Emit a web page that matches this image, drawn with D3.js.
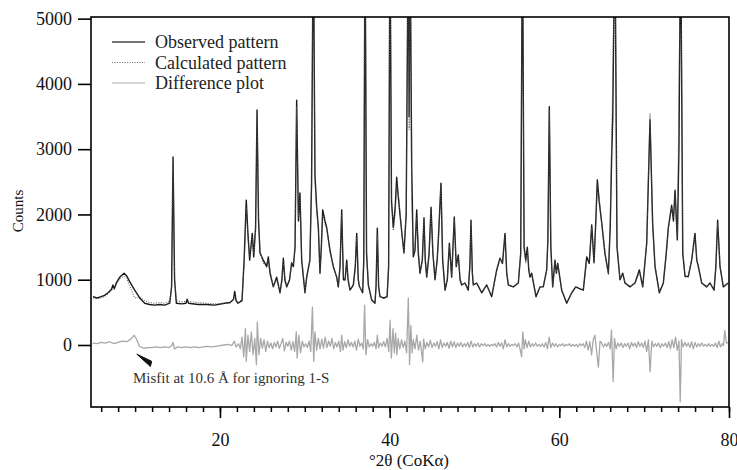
<!DOCTYPE html>
<html>
<head>
<meta charset="utf-8">
<script src="https://cdn.jsdelivr.net/npm/d3@7"></script>
<style>
  html, body { margin: 0; padding: 0; background: #fff; }
  svg { display: block; }
  svg text { font-family: "Liberation Serif", "Times New Roman", serif; }
</style>
</head>
<body>
<svg id="chart" width="737" height="470"></svg>
<script>
// ---- Data ----
const twoTheta = [5.04,5.5,6.0,6.4,6.8,7.2,7.39,7.55,7.78,8.2,8.69,9.0,9.36,9.95,10.54,11.13,11.7,12.3,12.9,13.49,14.08,14.3,14.47,14.65,14.86,15.5,16.0,16.12,16.3,17.4,18.4,19.37,20.55,21.2,21.6,21.74,21.9,22.13,22.6,22.85,23.1,23.3,23.5,23.81,23.98,24.2,24.37,24.55,24.72,25.1,25.51,25.7,25.9,26.29,26.68,27.08,27.3,27.47,27.65,27.87,28.2,28.45,28.65,28.85,29.04,29.25,29.43,29.63,30.02,30.22,30.6,30.8,31.0,31.2,31.4,31.6,31.79,31.95,32.11,32.38,32.58,32.97,33.36,33.76,33.95,34.15,34.35,34.55,34.75,34.94,35.1,35.33,35.72,35.95,36.12,36.3,36.43,36.82,36.95,37.1,37.28,37.49,37.88,38.27,38.4,38.55,38.7,38.86,39.3,39.7,39.88,40.04,40.22,40.43,40.65,40.83,41.0,41.22,41.45,41.69,41.95,42.2,42.3,42.4,42.6,42.79,42.99,43.19,43.38,43.58,43.85,44.05,44.2,44.37,44.65,44.88,45.1,45.35,45.6,45.74,46.05,46.25,46.53,46.8,47.04,47.31,47.62,47.85,48.09,48.3,48.49,48.88,49.27,49.45,49.59,49.75,49.86,50.26,50.85,51.44,52.03,52.62,53.01,53.3,53.6,53.8,53.99,54.58,55.17,55.45,55.65,55.85,56.05,56.23,56.4,56.54,56.74,57.25,57.72,58.11,58.51,58.65,58.82,59.0,59.22,59.49,59.65,59.81,60.28,60.87,61.46,61.93,62.44,62.83,63.23,63.53,63.82,64.09,64.3,64.48,64.7,65.0,65.38,65.78,66.0,66.17,66.3,66.55,66.8,67.15,67.47,67.74,68.33,68.92,69.43,69.83,70.3,70.69,71.0,71.28,71.79,72.26,72.6,72.85,73.24,73.45,73.64,73.91,74.1,74.3,74.55,74.82,75.2,75.6,75.99,76.2,76.39,76.78,77.37,77.76,78.24,78.45,78.66,78.94,79.33,79.92];

const observed = [740,720,740,760,800,850,920,860,950,1040,1100,1060,970,840,720,640,620,610,620,610,640,900,2880,1000,640,630,640,700,640,620,620,610,640,650,700,820,680,640,680,1300,2220,1700,1300,1710,1350,1800,3600,1900,1410,1300,1200,1350,1100,890,1040,800,1000,1330,1000,890,1000,1260,1200,1500,3750,1900,2330,1300,800,1040,1300,2500,6500,2600,2110,1800,1100,1500,2070,1900,1800,1450,1200,1040,890,1200,2070,1000,1000,1300,1000,840,920,1200,1710,1000,900,800,1300,6500,1400,920,690,640,900,1790,900,740,720,740,1200,6500,2200,1800,2100,2570,2300,2000,1700,1410,2000,6500,3500,6500,2730,1350,1450,2070,1400,1100,1300,1950,1300,1040,1400,2110,1400,1000,1300,1610,2480,1300,840,1000,1560,1040,1960,1200,1380,1000,920,950,840,1200,1910,1100,920,950,800,920,740,1150,1330,1250,1710,1100,920,890,950,1400,6500,1500,1300,1500,1150,1040,1100,740,890,890,1150,1600,3650,1500,890,1300,1100,1250,840,640,800,890,860,840,1350,1250,1840,1260,1900,2530,2200,1870,1400,1100,1800,2880,3500,6500,1500,1000,1100,950,890,950,1150,890,1560,3450,1870,1200,800,950,1400,1800,2140,1900,2370,1610,3000,6500,1400,1050,1050,1300,1710,1300,1200,950,890,950,840,1200,1910,1200,890,950];

const calculated = [720,710,720,740,780,830,860,850,920,1010,1060,1020,900,720,740,680,650,640,650,640,670,880,2840,1050,680,660,670,690,670,650,640,630,640,640,690,760,700,650,700,1250,2100,1650,1350,1650,1400,1750,3550,1950,1450,1250,1250,1300,1150,900,1000,820,980,1250,1050,900,980,1250,1220,1480,3650,1950,2250,1350,820,1020,1280,2450,6500,2500,2050,1750,1150,1480,2000,1850,1780,1420,1220,1020,910,1180,2000,1050,980,1250,1020,850,900,1180,1650,1050,890,820,1280,6500,1450,900,700,650,880,1700,920,750,710,730,1230,6500,2250,1750,2000,2450,2350,2050,1680,1420,2050,6500,3300,6500,2200,1400,1450,1950,1500,1120,1280,1900,1320,1050,1380,2050,1430,1020,1280,1600,2420,1330,860,1010,1520,1060,1920,1220,1350,1020,930,950,860,1180,1860,1120,930,940,810,910,760,1130,1320,1260,1650,1120,910,890,960,1450,6500,1450,1250,1450,1180,1060,1090,760,880,900,1140,1620,3600,1520,880,1280,1120,1240,850,660,790,880,870,850,1300,1280,1800,1300,1850,2450,2250,1850,1420,1080,1900,3200,4100,6500,1550,1020,1080,960,900,940,1120,900,1550,3550,1800,1220,810,940,1380,1780,2100,1950,2300,1650,3900,6500,1450,1060,1040,1320,1650,1320,1180,960,890,940,850,1180,1860,1220,900,940];

const diffTheta = [5.0,5.5,6.0,6.5,7.0,7.5,8.0,8.5,9.0,9.5,9.9,10.2,10.5,11.0,11.5,12.0,12.5,13.0,13.5,14.0,14.3,14.47,14.65,15.0,15.5,16.0,16.5,17.0,17.5,18.0,18.5,19.0,19.5,20.0,20.5,21.0,21.4,21.7,21.9,22.2,22.4,22.6,22.8,23.0,23.1,23.3,23.5,23.7,23.9,24.1,24.3,24.4,24.6,24.8,25.0,25.2,25.4,25.6,25.8,26.0,26.2,26.4,26.6,26.8,27.0,27.2,27.4,27.6,27.8,28.0,28.2,28.4,28.6,28.8,29.0,29.1,29.3,29.5,29.7,29.9,30.1,30.3,30.5,30.7,30.9,31.05,31.2,31.4,31.6,31.8,32.0,32.2,32.4,32.6,32.8,33.0,33.2,33.4,33.6,33.8,34.0,34.2,34.35,34.5,34.7,34.9,35.1,35.3,35.5,35.7,35.9,36.1,36.3,36.5,36.7,36.9,37.05,37.2,37.4,37.6,37.8,38.0,38.2,38.4,38.55,38.7,38.9,39.1,39.3,39.5,39.7,39.9,40.05,40.2,40.4,40.55,40.7,40.85,41.0,41.2,41.4,41.6,41.8,42.0,42.2,42.35,42.5,42.65,42.8,43.0,43.2,43.4,43.6,43.9,44.0,44.2,44.4,44.6,44.8,45.0,45.2,45.4,45.6,45.8,46.0,46.2,46.4,46.6,46.8,47.0,47.2,47.4,47.6,47.8,48.0,48.2,48.4,48.6,48.8,49.0,49.2,49.4,49.6,49.8,50.0,50.2,50.4,50.6,50.8,51.0,51.2,51.4,51.6,51.8,52.0,52.2,52.4,52.6,52.8,53.0,53.2,53.4,53.6,53.8,54.0,54.2,54.4,54.6,54.8,55.0,55.2,55.4,55.55,55.7,55.85,56.0,56.2,56.4,56.6,56.8,57.0,57.2,57.4,57.6,57.8,58.0,58.2,58.4,58.6,58.8,59.0,59.2,59.4,59.6,59.8,60.0,60.2,60.4,60.6,60.8,61.0,61.2,61.4,61.6,61.8,62.0,62.2,62.4,62.6,62.8,63.0,63.2,63.4,63.6,63.8,64.0,64.2,64.4,64.6,64.8,65.0,65.2,65.4,65.6,65.8,66.0,66.15,66.35,66.5,66.7,66.9,67.1,67.3,67.5,67.7,67.9,68.1,68.3,68.5,68.7,68.9,69.1,69.3,69.5,69.7,69.9,70.1,70.3,70.5,70.7,70.9,71.1,71.3,71.5,71.7,71.9,72.1,72.3,72.5,72.7,72.9,73.1,73.3,73.5,73.7,73.9,74.1,74.25,74.4,74.6,74.8,75.0,75.2,75.4,75.6,75.8,76.0,76.2,76.4,76.6,76.8,77.0,77.2,77.4,77.6,77.8,78.0,78.2,78.4,78.6,78.8,79.0,79.2,79.35,79.5,79.7,79.95];

const difference = [30,20,40,30,50,20,40,60,50,90,150,80,-20,-50,-40,-40,-30,-40,-30,-40,-10,40,-60,-30,-40,-30,-40,-30,-40,-30,-20,-30,-20,-10,0,10,-10,60,-30,20,-60,120,-180,250,-250,150,-100,200,-150,100,-300,350,-150,100,-50,80,-100,60,-40,30,-60,40,-30,60,-50,20,100,-90,40,-20,60,-80,50,-100,200,-200,150,-120,60,-30,20,-40,60,-100,580,-250,200,-80,100,-60,90,-50,120,-40,60,-20,100,-60,40,-30,60,-100,150,-80,50,-40,80,-20,40,-30,60,-80,90,-20,30,-60,610,-150,80,-30,20,-20,40,-60,150,-40,30,-20,50,-30,100,-100,380,-200,250,-120,180,-150,100,-60,80,-40,60,-120,720,-300,300,-120,80,-60,150,-80,60,-260,90,-60,40,-30,70,-40,30,-20,50,-60,80,-40,30,-20,40,-50,60,-30,50,-40,30,-20,40,-30,20,-20,40,-40,60,-30,20,-20,30,-30,20,-10,20,-20,10,-20,10,-10,20,-30,40,-20,30,-60,80,-30,20,-20,10,-10,20,-30,30,-80,-180,200,-60,80,-40,60,-30,20,-20,30,-20,10,-20,20,-30,40,-60,120,-40,30,-20,20,-30,10,-10,20,-20,10,-10,20,-20,10,-20,10,-30,20,-10,20,-40,60,-80,50,-150,80,150,-100,-340,60,30,-30,20,-20,40,-60,230,-560,100,-60,30,-20,30,-40,20,-20,30,-60,40,-20,30,-40,50,-20,30,-40,60,-100,80,-410,60,-30,20,-20,30,-40,20,-20,30,-40,50,-60,80,-40,120,-80,60,-870,80,-30,40,-20,30,-40,50,-60,40,-30,20,-20,30,-20,10,-20,20,-20,10,-20,30,-40,60,-30,20,-10,220,30,40];

const yTicks = [0, 1000, 2000, 3000, 4000, 5000];
const xMajorTicks = [20, 40, 60, 80];
const xMinorTicks = d3.range(6, 81, 2);
const legendItems = ["Observed pattern", "Calculated pattern", "Difference plot"];
const annotationText = "Misfit at 10.6 \u00C5 for ignoring 1-S";

// ---- Layout ----
const FONT = "'Liberation Serif', 'Times New Roman', serif";
const svg = d3.select("#chart");
const mL = 91, mR = 729, mT = 17, mB = 407;

const x = d3.scaleLinear().domain([4.8, 80]).range([mL, mR]);
const y = d3.scaleLinear().domain([-950, 5025]).range([mB, mT]);

svg.append("defs").append("clipPath").attr("id", "plotclip")
  .append("rect").attr("x", mL).attr("y", mT).attr("width", mR - mL).attr("height", mB - mT);

const plot = svg.append("g").attr("clip-path", "url(#plotclip)");

const obsPts = twoTheta.map((t, i) => [t, observed[i]]);
const calcPts = twoTheta.map((t, i) => [t, calculated[i]]);
const diffPts = diffTheta.map((t, i) => [t, difference[i]]);

const line = d3.line().x(d => x(d[0])).y(d => y(d[1]));

plot.append("path").datum(diffPts)
  .attr("d", line).attr("fill", "none")
  .attr("stroke", "#a8a8a8").attr("stroke-width", 1.3).attr("stroke-linejoin", "round");

plot.append("path").datum(obsPts)
  .attr("d", line).attr("fill", "none")
  .attr("stroke", "#1a1a1a").attr("stroke-width", 1.4).attr("stroke-linejoin", "round");

plot.append("path").datum(calcPts)
  .attr("d", line).attr("fill", "none")
  .attr("stroke", "#555").attr("stroke-width", 1).attr("stroke-dasharray", "1,1.5");

// ---- Axes ----
const yAxis = d3.axisLeft(y).tickValues(yTicks).tickSize(13).tickPadding(6).tickFormat(d3.format("d"));
const gy = svg.append("g").attr("transform", `translate(${mL},0)`).call(yAxis);
gy.attr("font-family", null);
gy.select(".domain").remove();
gy.selectAll(".tick line").attr("stroke", "#000").attr("stroke-width", 1.6);
gy.selectAll("text").style("font-family", FONT).style("font-size", "18px").attr("fill", "#111");

const xMinor = d3.axisBottom(x).tickValues(xMinorTicks).tickSize(5).tickFormat("");
const gxm = svg.append("g").attr("transform", `translate(0,${mB})`).call(xMinor);
gxm.select(".domain").remove();
gxm.selectAll(".tick line").attr("stroke", "#000").attr("stroke-width", 1.5);

const xMajor = d3.axisBottom(x).tickValues(xMajorTicks).tickSize(11).tickPadding(15).tickFormat(d3.format("d"));
const gx = svg.append("g").attr("transform", `translate(0,${mB})`).call(xMajor);
gx.attr("font-family", null);
gx.select(".domain").remove();
gx.selectAll(".tick line").attr("stroke", "#000").attr("stroke-width", 1.6);
gx.selectAll("text").style("font-family", FONT).style("font-size", "18px").attr("fill", "#111");

// frame
svg.append("rect").attr("x", mL).attr("y", mT).attr("width", mR - mL).attr("height", mB - mT)
  .attr("fill", "none").attr("stroke", "#000").attr("stroke-width", 1.6);

// axis titles
svg.append("text").attr("x", 409).attr("y", 466).attr("text-anchor", "middle")
  .style("font-family", FONT).style("font-size", "17px").attr("fill", "#111").text("\u00B02\u03B8 (CoK\u03B1)");
svg.append("text").attr("transform", "translate(23,211) rotate(-90)").attr("text-anchor", "middle")
  .style("font-family", FONT).style("font-size", "15px").attr("fill", "#111").text("Counts");

// ---- Legend ----
const legendStyles = [
  { stroke: "#444", width: 1.3, dash: null },
  { stroke: "#666", width: 1, dash: "1,1.5" },
  { stroke: "#aaa", width: 1.2, dash: null }
];
const lg = svg.append("g");
legendItems.forEach((name, i) => {
  const cy = 42 + i * 20.5;
  const s = legendStyles[i];
  const l = lg.append("line").attr("x1", 112).attr("x2", 145).attr("y1", cy).attr("y2", cy)
    .attr("stroke", s.stroke).attr("stroke-width", s.width);
  if (s.dash) l.attr("stroke-dasharray", s.dash);
  lg.append("text").attr("x", 155).attr("y", cy + 6)
    .style("font-family", FONT).style("font-size", "18px").attr("fill", "#222").text(name);
});

// ---- Annotation ----
svg.append("path")
  .attr("d", `M${x(10.2)},${y(-140)} L${x(11.95)},${y(-250)} L${x(11.8)},${y(-330)} Z`)
  .attr("fill", "#111").attr("stroke", "#111").attr("stroke-width", 1);
svg.append("text").attr("x", 133).attr("y", 383)
  .style("font-family", FONT).style("font-size", "15px").attr("fill", "#333").text(annotationText);
</script>
</body>
</html>
